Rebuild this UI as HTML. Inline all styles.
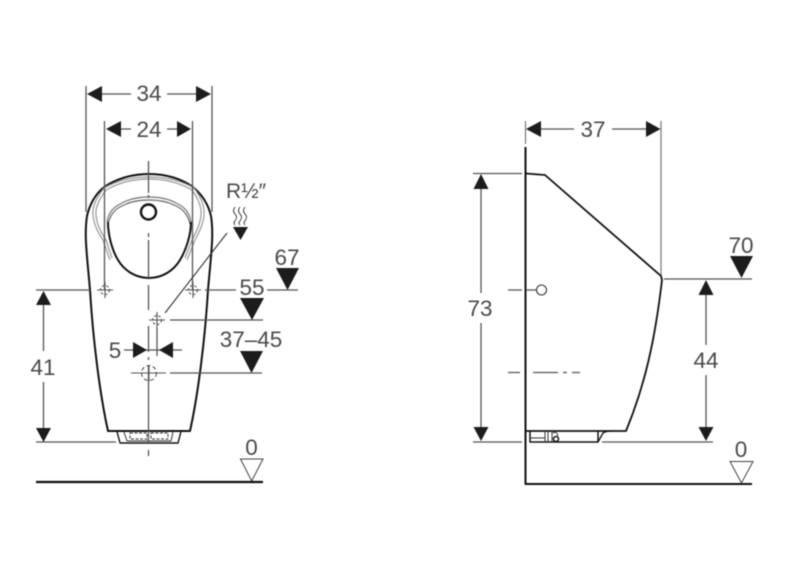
<!DOCTYPE html>
<html><head><meta charset="utf-8"><style>
html,body{margin:0;padding:0;background:#fff}
svg{display:block;filter:blur(.45px)}
text{font-family:"Liberation Sans",sans-serif;font-size:22.5px;fill:#4a4a4a;text-anchor:middle}
.d{stroke:#555;stroke-width:1.3;fill:none}
.k{stroke:#111;stroke-width:2;fill:none;stroke-linejoin:round}
.g{stroke:#999;stroke-width:1.2;fill:none}
.t{stroke:#333;stroke-width:1;fill:none}
.a{fill:#1c1c1c;stroke:none}
</style></head><body>
<svg width="800" height="576" viewBox="0 0 800 576" xmlns="http://www.w3.org/2000/svg">
<rect width="800" height="576" fill="#fff"/>
<!-- left body -->
<path class="k" d="M108 431C100 395 93 340 90 290C87 255 84 235 87 216C90 203 96 194 103 188C115 179 132 174 149 174C166 174 183 179 194 188C201 194 208 203 211 216C214 235 211 255 208 290C205 340 198 395 190 431Z"/>
<!-- rim -->
<path class="g" d="M104 188C118 180 134 177 149 177C164 177 180 180 194 188C200 196 205 205 204 215C203 226 198 234 195 240L187 260"/>
<path class="g" d="M106 190C120 182 134 179 149 179C164 179 178 182 192 190C197 197 202 206 201 215C200 226 195 234 192 240L185 258"/>
<path class="g" d="M104 188C98 196 92 205 93 215C94 226 99 234 103 240L110 260"/>
<path class="g" d="M106 190C101 197 95 206 96 215C97 226 102 234 106 240L112 258"/>
<!-- basin -->
<path class="g" style="stroke-width:1.4;stroke:#888" d="M107 222C109 211 114 207 122 203C131 198 140 197 149 197C158 197 167 198 176 203C184 207 189 211 191 222"/>
<path stroke="#666" stroke-width="1.2" fill="none" d="M108 224C111 212 117 208 124 205C132 201 141 200 149 200C157 200 166 201 174 205C181 208 187 212 190 224"/>
<path class="k" d="M108 222C108 235 112 250 118 260C124 270 135 278 149 278C163 278 174 270 180 260C186 250 191 235 191 222"/>
<circle cx="148.500" cy="212" r="7.500" fill="#fff" stroke="#111" stroke-width="2.400"/>
<path class="k" style="stroke-width:1.400" d="M117 431.500L120 443H178L181 431.500"/>
<path class="t" d="M124 432L127 441M173 432L171 441M127 441H171"/>
<path class="t" d="M130 433h17v6h-17zM151 433h17v6h-17z" stroke-dasharray="3 1.500"/>
<!-- center line -->
<path class="d" d="M148.500 161V193M148.500 195V198M148.500 233V237M148.500 240V278M148.500 285V310M148.500 326V352M148.500 357V360M148.500 365V395M148.500 395V443M148.500 450V456"/>
<!-- crosses -->
<g class="d" style="stroke-width:1.100">
<path d="M97 290H113M105 282V298"/><circle cx="105" cy="290" r="4.500" stroke-dasharray="2.500 2"/>
<path d="M185 290H201M193 282V298"/><circle cx="193" cy="290" r="4.500" stroke-dasharray="2.500 2"/>
<path d="M149 320H165M157 312V328"/><circle cx="157" cy="320" r="4.500" stroke-dasharray="2.500 2"/>
<path d="M131 373H166M149 365V381"/><circle cx="149" cy="373" r="7.500" stroke-dasharray="4 2.500"/>
</g>
<!-- left dims -->
<path class="d" d="M86 86V212M212 86V212M104.500 121V290M192.500 121V290"/>
<path class="d" d="M102 94H131M167 94H197M119 129H131M167 129H178"/>
<path class="a" d="M87 94L102 86V102ZM211 94L196 86V102ZM106 129L121 121V137ZM191 129L177 121V137Z"/>
<text x="149" y="101">34</text><text x="149" y="137">24</text>
<path class="d" d="M36 290H90M205 290H236M267 290H298M170 320H263M170 373H262M36 442H116"/>
<path class="d" d="M43.500 300V351M43.500 382V432M124 350H182M157 328V356"/>
<path class="a" d="M43.500 291L51 305H36ZM43.500 442L51 428H36ZM147 350L133 342V358ZM159 350L173 342V358Z"/>
<text x="43" y="375">41</text><text x="115" y="358">5</text>
<path d="M165 313L227 233" stroke="#333" stroke-width="1.100" fill="none"/>
<text x="246" y="198" style="font-size:21px">R½″</text>
<path class="t" style="stroke-width:.9" d="M235 207q-3 4 0 7t0 7q-2 2 0 4M240 207q-3 4 0 7t0 7q-2 2 0 4M245 207q-3 4 0 7t0 7q-2 2 0 4"/>
<path class="a" d="M233 227H248L240.500 240Z"/>
<text x="287" y="265">67</text><path class="a" d="M276 268H299L287.500 290Z"/>
<text x="252" y="295">55</text><path class="a" d="M240 298H264L252 320Z"/>
<text x="251" y="347">37–45</text><path class="a" d="M240 351H263L251.500 373Z"/>
<text x="251.500" y="455">0</text><path d="M240.500 459H263L251.700 481Z" fill="#fff" stroke="#444" stroke-width="1"/>
<path d="M36 482H263" stroke="#111" stroke-width="2.200" fill="none"/>
<!-- right view -->
<path class="g" style="stroke:#777" d="M525.500 121V144M661 121V275"/>
<path class="d" d="M540 129H574M612 129H647M473 173.500H522M473 442H522M664 279H752M602 442H713"/>
<path class="a" d="M526 129L541 121V137ZM660.500 129L646 121V137Z"/>
<text x="593" y="137">37</text>
<path class="k" d="M525.500 147V484H752"/>
<path class="k" style="stroke-width:1.800" d="M526 173.500L545 175L661 276L662 280C655 340 645 385 626 431H526"/>
<path class="k" style="stroke-width:1.500" d="M530 431V442H598V431"/>
<path class="k" style="stroke-width:1.300" d="M598 442L603 433Q606 431 612 431"/>
<path class="t" d="M530 438H545M545 431V442M548 431V442M552 431V442"/>
<circle cx="556" cy="439" r="2.500" fill="none" stroke="#111" stroke-width="1.500"/>
<path class="t" d="M553 433q4 -2 5 3"/>
<path class="d" d="M481 189V293M481 323V428M706 295V345M706 375V428"/>
<path class="a" d="M481 174L488.500 189H473.500ZM481 441L488.500 427H473.500ZM706 280L713.500 295H698.500ZM706 441L713.500 427H698.500Z"/>
<text x="480" y="316">73</text><text x="706" y="368">44</text>
<path class="d" d="M508 290H522M526 290H536M508 372.500H520M533 372.500H558M563 372.500H567M572 372.500H580"/>
<circle cx="541.500" cy="290" r="5" fill="#fff" stroke="#333" stroke-width="1.100"/>
<text x="741" y="253">70</text><path class="a" d="M730 256H753L741.500 278Z"/>
<text x="741" y="457">0</text><path d="M730 461.500H753L741.500 483Z" fill="#fff" stroke="#444" stroke-width="1"/>
</svg>
</body></html>
